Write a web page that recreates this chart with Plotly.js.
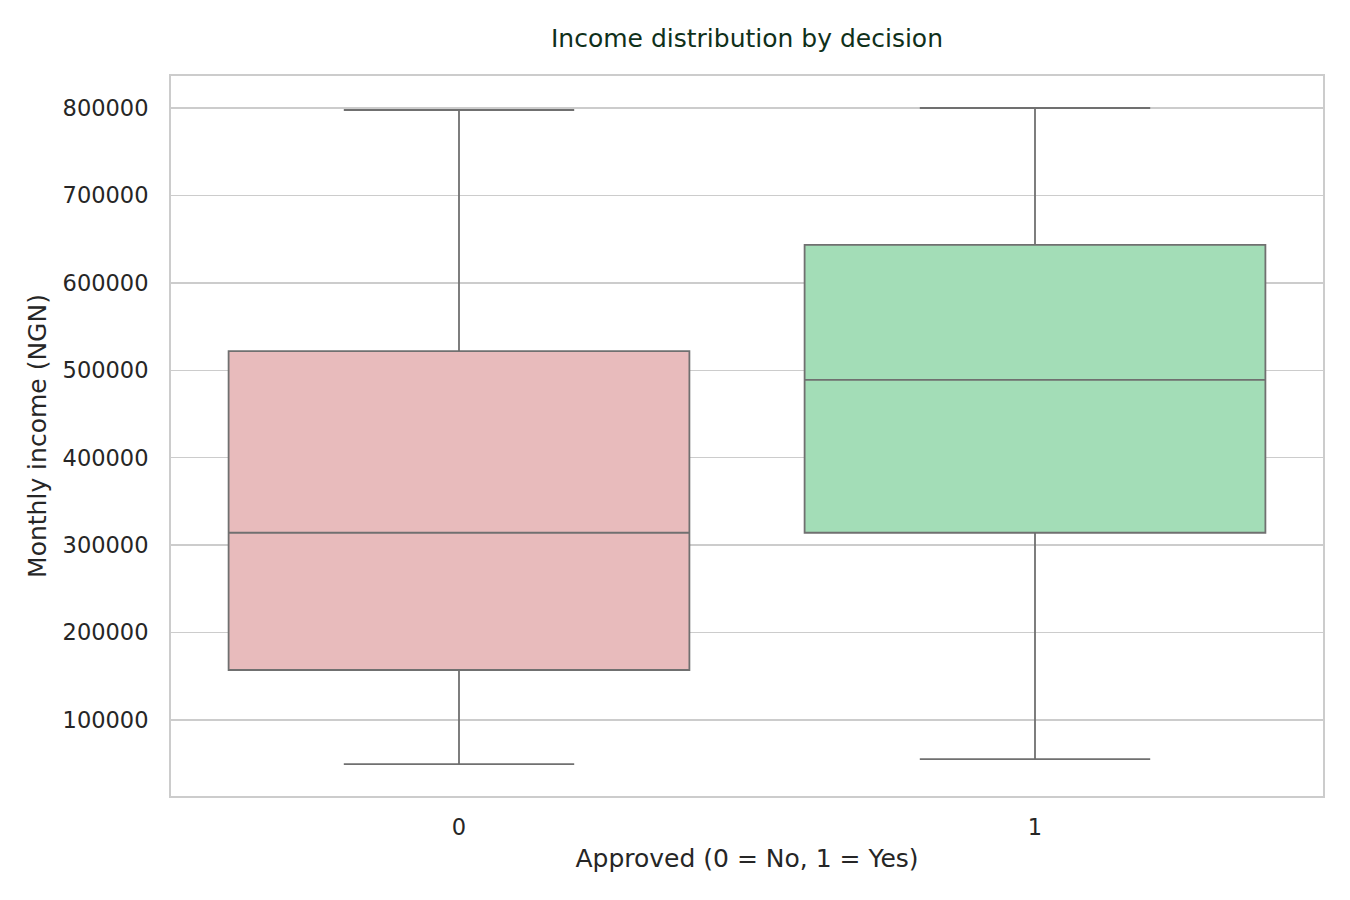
<!DOCTYPE html>
<html>
<head>
<meta charset="utf-8">
<script src="https://cdn.plot.ly/plotly-3.0.1.min.js"></script>
<style>html,body{margin:0;padding:0;background:#fff}</style>
</head>
<body>
<div id="chart" style="width:1350px;height:900px"></div>
<script>
const categories = ["0", "1"];
const lowerWhisker = [49600, 55300];
const q1Values = [157200, 314200];
const medianValues = [314200, 489000];
const q3Values = [522000, 643400];
const upperWhisker = [797700, 800000];
const fillColors = ["#e8bbbc", "#a3ddb7"];

const traces = categories.map((c, i) => ({
  type: "box",
  x: [c],
  lowerfence: [lowerWhisker[i]],
  q1: [q1Values[i]],
  median: [medianValues[i]],
  q3: [q3Values[i]],
  upperfence: [upperWhisker[i]],
  width: 0.8,
  whiskerwidth: 0.5,
  fillcolor: fillColors[i],
  line: {color: "#707070", width: 1.8},
  boxpoints: false,
  showlegend: false,
  hoverinfo: "y"
}));

const layout = {
  width: 1350, height: 900,
  paper_bgcolor: "#ffffff",
  plot_bgcolor: "#ffffff",
  font: {family: "DejaVu Sans", color: "#262626", size: 22.5},
  margin: {l: 171, r: 27, t: 76, b: 104},
  title: {text: "Income distribution by decision", x: 0.5, xref: "paper", y: 0.958, yanchor: "middle",
          font: {size: 25, color: "#10301a", family: "DejaVu Sans"}},
  boxmode: "overlay",
  xaxis: {
    type: "category",
    categoryorder: "array", categoryarray: categories,
    range: [-0.5, 1.5],
    showgrid: false, zeroline: false,
    showline: true, mirror: true, linecolor: "#cccccc", linewidth: 2,
    ticks: "", ticklen: 0,
    ticklabelstandoff: 10,
    tickfont: {size: 22.5},
    title: {text: "Approved (0 = No, 1 = Yes)", font: {size: 25}, standoff: 10}
  },
  yaxis: {
    range: [13070, 836600],
    tickvals: [100000, 200000, 300000, 400000, 500000, 600000, 700000, 800000],
    ticktext: ["100000","200000","300000","400000","500000","600000","700000","800000"],
    showgrid: true, gridcolor: "#cccccc", gridwidth: 1.5,
    zeroline: false,
    showline: true, mirror: true, linecolor: "#cccccc", linewidth: 2,
    ticks: "",
    ticklabelstandoff: 16,
    tickfont: {size: 22.5},
    title: {text: "Monthly income (NGN)", font: {size: 25}, standoff: 9}
  }
};

Plotly.newPlot("chart", traces, layout, {displayModeBar: false, staticPlot: true});
</script>
</body>
</html>
